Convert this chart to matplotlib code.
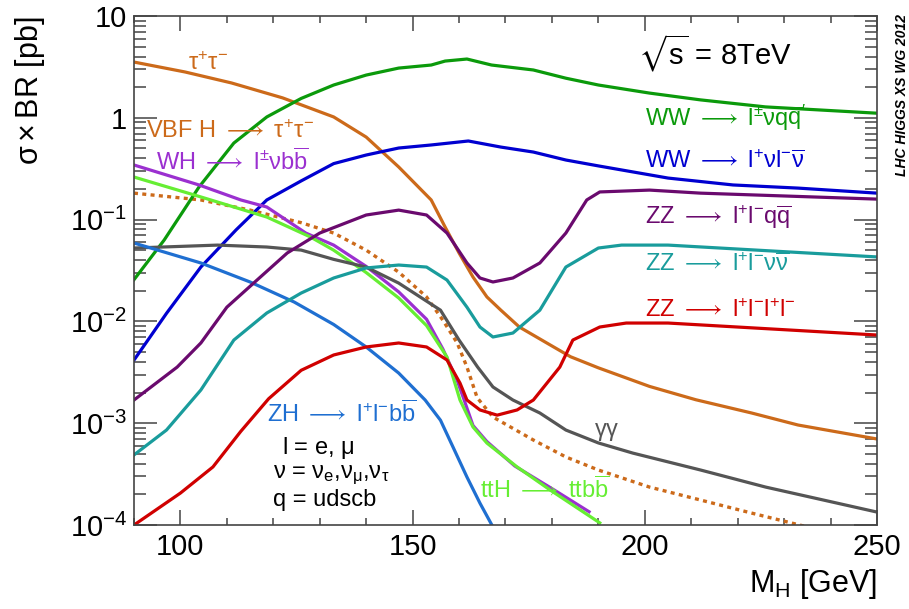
import matplotlib
matplotlib.use("Agg")
import matplotlib.pyplot as plt
from matplotlib.ticker import FixedLocator, MultipleLocator, NullFormatter

plt.rcParams['font.family'] = ['Liberation Sans', 'DejaVu Sans']
plt.rcParams['mathtext.fontset'] = 'custom'
plt.rcParams['mathtext.rm'] = 'Liberation Sans'
plt.rcParams['mathtext.it'] = 'Liberation Sans'
plt.rcParams['mathtext.default'] = 'regular'
plt.rcParams['mathtext.fallback'] = 'stixsans'

# sigma x BR [pb] vs M_H [GeV], sqrt(s) = 8 TeV
m_tautau = [90, 101, 111, 122, 133, 140, 147, 154, 157, 160, 163, 166, 169, 173, 179, 184, 190, 201, 211, 223, 233, 250]
xs_tautau = [3.53, 2.82, 2.20, 1.57, 1.02, 0.647, 0.329, 0.156, 0.0845, 0.047, 0.0273, 0.0174, 0.0129,
             0.0088, 0.0061, 0.0045, 0.0035, 0.0023, 0.0017, 0.00126, 0.00096, 0.0007]

m_ww_lvqq = [90, 96.5, 104, 111.5, 118.6, 126, 133, 140, 147, 154, 157, 161.7, 167, 176, 183, 190, 201, 212, 226, 250]
xs_ww_lvqq = [0.0257, 0.063, 0.209, 0.565, 1.02, 1.55, 2.10, 2.63, 3.08, 3.30, 3.61, 3.78, 3.30, 2.95,
              2.45, 2.10, 1.75, 1.50, 1.28, 1.11]

m_ww_lvlv = [90, 97, 104.4, 112, 118.6, 126, 133, 140, 147, 154, 162, 169, 176, 183, 190, 205, 219, 233, 250]
xs_ww_lvlv = [0.00417, 0.0120, 0.0342, 0.0794, 0.156, 0.24, 0.355, 0.431, 0.505, 0.541, 0.592, 0.516,
              0.461, 0.385, 0.337, 0.256, 0.219, 0.204, 0.182]

m_wh = [90, 104, 113, 118.6, 127, 133, 140, 147, 153, 156.5, 159.6, 161, 163, 166, 172, 180, 188]
xs_wh = [0.344, 0.219, 0.156, 0.133, 0.0738, 0.0562, 0.0347, 0.0195, 0.0105, 0.00537, 0.00263, 0.00174,
         0.00095, 0.00066, 0.00038, 0.000228, 0.000135]

m_tth = [90, 104.4, 118.6, 128, 133, 140, 147, 153, 157.4, 160.2, 163, 166, 172.5, 179.6, 190.3]
xs_tth = [0.262, 0.167, 0.106, 0.0675, 0.0501, 0.0302, 0.0170, 0.0091, 0.00447, 0.00169, 0.000918,
          0.000638, 0.000372, 0.000221, 0.000105]

m_vbf = [90, 104.4, 115, 126, 133, 140, 147, 153, 156.5, 159.6, 161.7, 163.9, 167.3, 176, 183, 190, 201, 212, 223, 236]
xs_vbf = [0.182, 0.156, 0.124, 0.0933, 0.0738, 0.0501, 0.0305, 0.0174, 0.0103, 0.00614, 0.00356, 0.00178,
          0.00115, 0.000684, 0.000466, 0.000347, 0.000236, 0.000176, 0.000131, 0.0000933]

m_gamgam = [90, 108, 118.6, 126, 133, 140, 147, 156, 160, 164, 167.3, 171.6, 177.4, 183, 190, 197.4, 212, 226, 250]
xs_gamgam = [0.0526, 0.0562, 0.0538, 0.0502, 0.0407, 0.0342, 0.0238, 0.0129, 0.00656, 0.00356, 0.00227,
             0.00169, 0.00126, 0.000857, 0.00064, 0.000509, 0.000347, 0.000236, 0.000134]

m_zh = [90, 104.4, 115, 124.5, 133, 140, 147, 152.7, 156, 158.7, 161.7, 164.5, 167.5]
xs_zh = [0.0589, 0.0375, 0.0244, 0.0155, 0.00933, 0.00561, 0.00311, 0.00169, 0.00107, 0.000583,
         0.000296, 0.000164, 0.000092]

m_zz_llqq = [90, 99.3, 104.4, 110, 116.5, 123, 130, 140, 147, 153, 157.4, 161.7, 164.5, 167.3, 171.6,
             177.4, 183, 187.5, 190.3, 201, 212, 250]
xs_zz_llqq = [0.00169, 0.00356, 0.00614, 0.0138, 0.0255, 0.047, 0.0738, 0.111, 0.124, 0.111, 0.0738,
              0.0375, 0.0267, 0.0244, 0.0267, 0.0375, 0.0738, 0.156, 0.187, 0.195, 0.182, 0.159]

m_zz_llvv = [90, 97, 104.4, 111.5, 118.6, 126, 133, 140, 147, 153, 157.4, 161.7, 164.5, 167.3, 171.6,
             177.4, 183, 190, 195, 205, 250]
xs_zz_llvv = [0.000488, 0.000857, 0.00212, 0.00656, 0.0121, 0.019, 0.0267, 0.0335, 0.0358, 0.0342,
              0.0255, 0.0138, 0.00881, 0.00703, 0.00769, 0.0129, 0.0342, 0.0526, 0.0562, 0.0562, 0.043]

m_zz_4l = [90, 100, 107, 113, 119, 126, 133, 140, 147, 153, 157.4, 160.2, 161.7, 164.5, 168.2, 172.5,
           176, 181.7, 184.5, 190.3, 196, 205, 250]
xs_zz_4l = [0.0001, 0.000206, 0.000372, 0.000832, 0.00174, 0.00331, 0.00468, 0.00561, 0.00614, 0.00561,
            0.00418, 0.00248, 0.00169, 0.00135, 0.0012, 0.00135, 0.00169, 0.00356, 0.00656, 0.00881,
            0.00964, 0.00964, 0.00735]

ytick_vals = [1e-4, 1e-3, 1e-2, 1e-1, 1, 10]
ytick_labels = ['$10^{-4}$', '$10^{-3}$', '$10^{-2}$', '$10^{-1}$', '1', '10']
xtick_vals = [100, 150, 200, 250]

c_tau = '#cc6a1a'
c_ww1 = '#0b9a0b'
c_ww2 = '#0000d0'
c_wh = '#9b30d0'
c_tth = '#66ee33'
c_gg = '#555555'
c_zh = '#1f6fd1'
c_zz1 = '#6a0a6e'
c_zz2 = '#199c9c'
c_zz3 = '#d00000'

fig = plt.figure(figsize=(9.09, 6.09), dpi=100)
ax = fig.add_axes([0.1474, 0.1379, 0.8174, 0.8358])

lw = 2.3
ax.plot(m_vbf, xs_vbf, color=c_tau, lw=2.4, linestyle=(0, (1.2, 1.3)))
ax.plot(m_tautau, xs_tautau, color=c_tau, lw=lw)
ax.plot(m_ww_lvqq, xs_ww_lvqq, color=c_ww1, lw=lw)
ax.plot(m_ww_lvlv, xs_ww_lvlv, color=c_ww2, lw=lw)
ax.plot(m_wh, xs_wh, color=c_wh, lw=lw)
ax.plot(m_tth, xs_tth, color=c_tth, lw=lw)
ax.plot(m_gamgam, xs_gamgam, color=c_gg, lw=lw)
ax.plot(m_zh, xs_zh, color=c_zh, lw=lw)
ax.plot(m_zz_llqq, xs_zz_llqq, color=c_zz1, lw=lw)
ax.plot(m_zz_llvv, xs_zz_llvv, color=c_zz2, lw=lw)
ax.plot(m_zz_4l, xs_zz_4l, color=c_zz3, lw=lw)

ax.set_yscale('log')
ax.set_xlim(90, 250)
ax.set_ylim(1e-4, 10)

ax.xaxis.set_major_locator(FixedLocator(xtick_vals))
ax.xaxis.set_minor_locator(MultipleLocator(10))
ax.yaxis.set_major_locator(FixedLocator(ytick_vals))
ax.set_yticklabels(ytick_labels)
ax.yaxis.set_minor_formatter(NullFormatter())

axis_col = '#444444'
for s in ax.spines.values():
    s.set_color(axis_col)
    s.set_linewidth(1.2)
ax.tick_params(axis='x', which='major', direction='in', length=11, width=1.1, color=axis_col,
               top=True, labelsize=21, pad=6)
ax.tick_params(axis='x', which='minor', direction='in', length=5, width=1.1, color=axis_col, top=True)
ax.tick_params(axis='y', which='major', direction='in', length=16.5, width=1.1, color=axis_col,
               right=True, labelsize=21, pad=5)
ax.tick_params(axis='y', which='minor', direction='in', length=8.5, width=1.1, color=axis_col, right=True)

def px(x, y):
    # figure pixel position (from top-left) -> figure fraction
    return x / 909.0, 1 - y / 609.0

fig.text(*px(30, 17), r'$\sigma \times$BR [pb]', fontsize=22, rotation=90, ha='center', va='top')
fig.text(*px(877, 584), '$M_{H}$ [GeV]', fontsize=22, ha='right', va='center')

arrow = r'$\longrightarrow$'
fs = 17
labels = [
    (188, 64, r'$\tau^{+}\tau^{-}$', c_tau),
    (146, 132, r'VBF H ' + arrow + r' $\tau^{+}\tau^{-}$', c_tau),
    (156, 162, r'WH ' + arrow + r' $l^{\pm}\nu b\overline{b}$', c_wh),
    (645, 118, r"WW " + arrow + r" $l^{\pm}\nu q\overline{q}'$", c_ww1),
    (645, 162, r'WW ' + arrow + r' $l^{+}\nu l^{-}\overline{\nu}$', c_ww2),
    (645, 217, r'ZZ ' + arrow + r' $l^{+}l^{-}q\overline{q}$', c_zz1),
    (645, 265, r'ZZ ' + arrow + r' $l^{+}l^{-}\nu\overline{\nu}$', c_zz2),
    (645, 311, r'ZZ ' + arrow + r' $l^{+}l^{-}l^{+}l^{-}$', c_zz3),
    (267, 414, r'ZH ' + arrow + r' $l^{+}l^{-}b\overline{b}$', c_zh),
    (480, 490, r'ttH ' + arrow + r' tt$b\overline{b}$', c_tth),
    (594, 432, r'$\gamma\gamma$', c_gg),
    (282, 448, r'l = e, $\mu$', 'black'),
    (273, 475, r'$\nu$ = $\nu_{e}$,$\nu_{\mu}$,$\nu_{\tau}$', 'black'),
    (273, 500, 'q = udscb', 'black'),
]
for x, y, t, c in labels:
    fig.text(*px(x, y), t, color=c, fontsize=fs, ha='left', va='center')

fig.text(*px(638, 53), r'$\sqrt{s}$ = 8TeV', fontsize=21, ha='left', va='center')
fig.text(*px(902, 95), 'LHC HIGGS XS WG 2012', fontsize=10, fontweight='bold', fontstyle='italic',
         rotation=90, ha='center', va='center')

fig.savefig('out.png', dpi=100)
